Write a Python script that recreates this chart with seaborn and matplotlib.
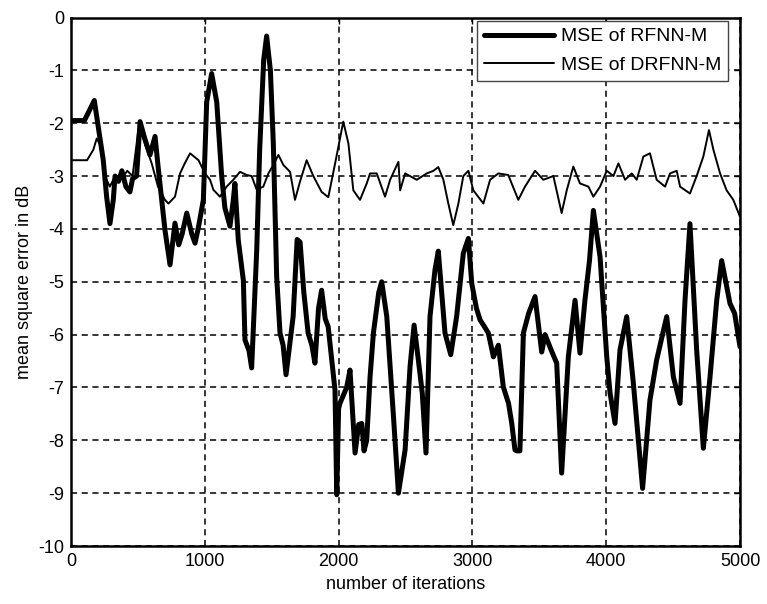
import matplotlib
matplotlib.use("Agg")
import matplotlib.pyplot as plt
import seaborn as sns
import pandas as pd

rfnn_x = [0, 100, 174, 204, 241, 266, 291, 316, 329, 355, 380, 410, 440, 460, 490, 516, 550, 590,
          628, 650, 678, 702, 740, 777, 805, 830, 865, 903, 927, 953, 989, 1014, 1051, 1089, 1126,
          1150, 1188, 1213, 1225, 1250, 1288, 1300, 1330, 1350, 1388, 1410, 1440, 1462, 1490, 1512,
          1537, 1562, 1585, 1607, 1660, 1690, 1712, 1740, 1772, 1800, 1823, 1850, 1873, 1900, 1922,
          1950, 1973, 1986, 2000, 2010, 2060, 2085, 2105, 2123, 2150, 2173, 2190, 2210, 2235, 2260,
          2300, 2322, 2360, 2385, 2410, 2447, 2497, 2534, 2564, 2596, 2625, 2653, 2683, 2720, 2745,
          2770, 2795, 2838, 2882, 2932, 2970, 2995, 3030, 3057, 3090, 3119, 3157, 3194, 3231, 3270,
          3294, 3318, 3331, 3355, 3381, 3420, 3468, 3518, 3543, 3590, 3630, 3667, 3717, 3767, 3804,
          3841, 3875, 3904, 3954, 4004, 4029, 4066, 4103, 4153, 4203, 4240, 4272, 4327, 4377, 4452,
          4502, 4552, 4589, 4626, 4676, 4726, 4776, 4826, 4863, 4925, 4960, 5000]
rfnn_y = [-1.95, -1.95, -1.57, -2.07, -2.7, -3.39, -3.9, -3.45, -3.0, -3.1, -2.9, -3.2, -3.3, -3.05,
          -3.0, -1.97, -2.28, -2.6, -2.25, -2.8, -3.45, -4.02, -4.68, -3.89, -4.3, -4.1, -3.7, -4.1,
          -4.27, -3.96, -3.45, -1.6, -1.06, -1.6, -3.0, -3.6, -3.95, -3.45, -3.14, -4.21, -4.97, -6.1,
          -6.3, -6.63, -4.4, -2.5, -0.8, -0.35, -1.0, -2.38, -4.9, -5.97, -6.2, -6.76, -5.66, -4.2,
          -4.25, -5.2, -5.97, -6.2, -6.54, -5.5, -5.16, -5.7, -5.85, -6.5, -7.05, -9.03, -7.4, -7.3,
          -7.0, -6.67, -7.5, -8.24, -7.7, -7.68, -8.2, -8.0, -6.8, -5.97, -5.2, -5.0, -5.66, -6.6,
          -7.55, -9.0, -8.18, -6.6, -5.82, -6.48, -7.1, -8.24, -5.66, -4.78, -4.42, -5.2, -5.97, -6.38,
          -5.66, -4.46, -4.18, -5.03, -5.5, -5.72, -5.85, -5.97, -6.42, -6.2, -6.99, -7.3, -7.68,
          -8.18, -8.2, -8.2, -5.97, -5.6, -5.28, -6.33, -6.0, -6.3, -6.54, -8.62, -6.42, -5.35, -6.35,
          -5.35, -4.6, -3.65, -4.53, -6.42, -7.11, -7.68, -6.29, -5.66, -6.92, -8.0, -8.91, -7.24,
          -6.48, -5.66, -6.8, -7.3, -5.35, -3.9, -6.29, -8.15, -6.8, -5.35, -4.6, -5.41, -5.6, -6.23]

drfnn_x = [0, 120, 167, 192, 216, 253, 290, 330, 380, 420, 460, 503, 530, 553, 603, 650, 702, 728,
           777, 815, 850, 890, 953, 1001, 1039, 1064, 1113, 1163, 1213, 1263, 1313, 1350, 1388, 1437,
           1475, 1512, 1550, 1587, 1637, 1674, 1712, 1761, 1811, 1873, 1923, 1973, 2035, 2073, 2110,
           2160, 2210, 2235, 2285, 2347, 2385, 2447, 2460, 2497, 2584, 2659, 2709, 2745, 2783, 2820,
           2857, 2895, 2932, 2970, 3007, 3082, 3132, 3194, 3268, 3343, 3393, 3468, 3530, 3605, 3667,
           3705, 3754, 3804, 3867, 3904, 3954, 4004, 4054, 4091, 4141, 4191, 4228, 4278, 4327, 4377,
           4440, 4477, 4527, 4552, 4626, 4676, 4726, 4768, 4801, 4851, 4900, 4950, 5000]
drfnn_y = [-2.7, -2.7, -2.5, -2.29, -2.4, -3.0, -3.2, -3.0, -3.05, -2.9, -3.0, -2.13, -2.2, -2.4,
           -2.76, -3.2, -3.45, -3.52, -3.39, -2.95, -2.76, -2.57, -2.7, -2.95, -3.07, -3.26, -3.39,
           -3.2, -3.07, -2.92, -2.98, -3.0, -3.26, -3.2, -2.95, -2.79, -2.6, -2.79, -2.92, -3.45, -3.1,
           -2.7, -3.0, -3.3, -3.4, -2.77, -1.97, -2.38, -3.27, -3.45, -3.14, -2.95, -2.95, -3.39, -3.07,
           -2.73, -3.27, -2.95, -3.07, -2.95, -2.9, -2.83, -3.07, -3.52, -3.93, -3.52, -3.0, -2.9,
           -3.27, -3.52, -3.07, -2.95, -2.98, -3.45, -3.2, -2.9, -3.07, -3.0, -3.7, -3.27, -2.82, -3.14,
           -3.2, -3.39, -3.2, -2.9, -3.0, -2.76, -3.07, -2.95, -3.07, -2.63, -2.57, -3.07, -3.2, -2.95,
           -2.9, -3.2, -3.33, -3.0, -2.63, -2.13, -2.5, -2.95, -3.27, -3.45, -3.77]

x_ticks = [0, 1000, 2000, 3000, 4000, 5000]
y_ticks = [0, -1, -2, -3, -4, -5, -6, -7, -8, -9, -10]

sns.set_style("white")
plt.rcParams['font.family'] = ['Liberation Sans', 'DejaVu Sans']
plt.rcParams['text.color'] = 'black'
plt.rcParams['axes.labelcolor'] = 'black'

fig = plt.figure(figsize=(7.67, 6.04), dpi=100)
ax = fig.add_axes([0.0926, 0.096, 0.8722, 0.875])

df1 = pd.DataFrame({"x": rfnn_x, "y": rfnn_y})
df2 = pd.DataFrame({"x": drfnn_x, "y": drfnn_y})
sns.lineplot(data=df1, x="x", y="y", ax=ax, color="black", linewidth=3.6,
             label="MSE of RFNN-M", zorder=3)
sns.lineplot(data=df2, x="x", y="y", ax=ax, color="black", linewidth=1.4,
             label="MSE of DRFNN-M", zorder=3)

ax.set_xlim(0, 5000)
ax.set_ylim(-10, 0)
ax.set_xticks(x_ticks)
ax.set_yticks(y_ticks)
ax.set_xticklabels([str(t) for t in x_ticks])
ax.set_yticklabels([str(t) for t in y_ticks])
ax.tick_params(direction="in", length=4, width=1, labelsize=13, top=True, right=True,
               colors="black", labelcolor="black", pad=5)
ax.grid(True, color="black", linestyle=(0, (4, 3)), linewidth=1.1)
for s in ax.spines.values():
    s.set_color("black")
    s.set_linewidth(1.8)
ax.set_xlabel("number of iterations", fontsize=13, labelpad=4, color="black")
ax.set_ylabel("mean square error in dB", fontsize=13, labelpad=4, color="black")

leg = ax.legend(loc="upper right", bbox_to_anchor=(0.982, 0.9934), borderaxespad=0,
                fontsize=14, frameon=True, fancybox=False, framealpha=1,
                handlelength=3.6, handletextpad=0.35, labelspacing=0.55,
                borderpad=0.35)
leg.get_frame().set_edgecolor("#444444")
leg.get_frame().set_linewidth(1.0)
for t in leg.get_texts():
    t.set_color("black")

fig.savefig("out.png", dpi=100)
